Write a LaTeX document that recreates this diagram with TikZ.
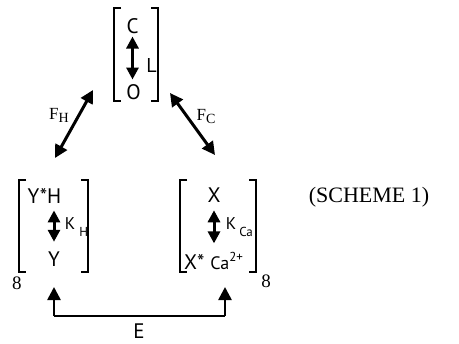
\documentclass[tikz,border=0pt]{standalone}
\usepackage{fontspec}
\setmainfont{PT Sans}
\newfontfamily\schemefont{Liberation Serif}
\usetikzlibrary{arrows.meta}
\tikzset{
  brak/.style={line width=1pt},
  eqarrow/.style={{Triangle[length=6pt,width=6pt]}-{Triangle[length=6pt,width=6pt]},line width=1.5pt},
  ratearrow/.style={{Triangle[length=6.5pt,width=6.5pt]}-{Triangle[length=6.5pt,width=6.5pt]},line width=1.5pt},
  linkarrow/.style={-{Triangle[length=6.5pt,width=6.5pt]},line width=1.3pt},
  sublbl/.style={font=\fontsize{8.5}{9}\selectfont,anchor=west}
}
\begin{document}
\begin{tikzpicture}[x=0.5pt,y=-0.5pt,every node/.style={inner sep=0pt,font=\fontsize{10.5}{12}\selectfont}]
\useasboundingbox (0,0) rectangle (459,343);
% top state
\node (C) at (132.5,26.5) {C};
\node (O) at (133.5,92.5) {O};
\node[sublbl,font=\fontsize{10}{12}\selectfont] (L) at (146,65) {L};
\draw[eqarrow,shorten <=1pt,shorten >=2.5pt] (C.south) -- (C.south |- O.north);
\draw[brak] (121,8) -| (114,101) -- (121,101);
\draw[brak] (151,8) -| (158,101) -- (151,101);
% left state
\node (YH) at (44.5,195.5) {Y*H};
\node (Y) at (54,259.5) {Y};
\node[sublbl] (KH) at (64.5,227) {K\hspace{2pt}\raisebox{-3.5pt}{\fontsize{6.5}{7}\selectfont H}};
\draw[eqarrow,shorten <=3.5pt,shorten >=5pt] (Y.north |- YH.south) -- (Y.north);
\draw[brak] (26,180) -| (19,272) -- (26,272);
\draw[brak] (81,180) -| (88,272) -- (81,272);
\node[font=\schemefont\fontsize{9.5}{11}\selectfont] (nl) at (17,283.5) {8};
% right state
\node (X) at (214,195.5) {X};
\node (XCa) at (213.5,260.5) {X*\hspace{3pt}{\fontsize{9}{10}\selectfont Ca\raisebox{4pt}{\fontsize{6.5}{7}\selectfont 2+}}};
\node[sublbl] (KCa) at (225.5,227) {K\hspace{1.5pt}\raisebox{-3.5pt}{\fontsize{6.5}{7}\selectfont Ca}};
\draw[eqarrow,shorten <=3.5pt,shorten >=4pt] (X.south) -- (X.south |- XCa.north);
\draw[brak] (187,180) -| (180,272) -- (187,272);
\draw[brak] (249,180) -| (256,272) -- (249,272);
\node[font=\schemefont\fontsize{9.5}{11}\selectfont] (nr) at (266,281) {8};
% transitions
\coordinate (fh1) at (55,158);
\coordinate (fh2) at (93,90);
\coordinate (fc1) at (170,93);
\coordinate (fc2) at (215,155);
\draw[ratearrow] (fh1) -- (fh2);
\draw[ratearrow] (fc1) -- (fc2);
\node[font=\schemefont\fontsize{8.5}{9}\selectfont] (FH) at (59,115) {F\raisebox{-1.5pt}{\fontsize{7}{8}\selectfont H}};
\node[font=\schemefont\fontsize{8.5}{9}\selectfont] (FC) at (206,116) {F\raisebox{-1.5pt}{\fontsize{7}{8}\selectfont C}};
% link between states
\coordinate (el) at (54,316);
\coordinate (er) at (225,316);
\draw[linkarrow] (el) -- ++(0,-29);
\draw[linkarrow] (er) -- ++(0,-29);
\draw[line width=1.3pt] (el) -- (er);
\node (E) at (139,331) {E};
\node[font=\schemefont\fontsize{11}{12}\selectfont] (scheme) at (369,197) {(SCHEME 1)};
\end{tikzpicture}
\end{document}
